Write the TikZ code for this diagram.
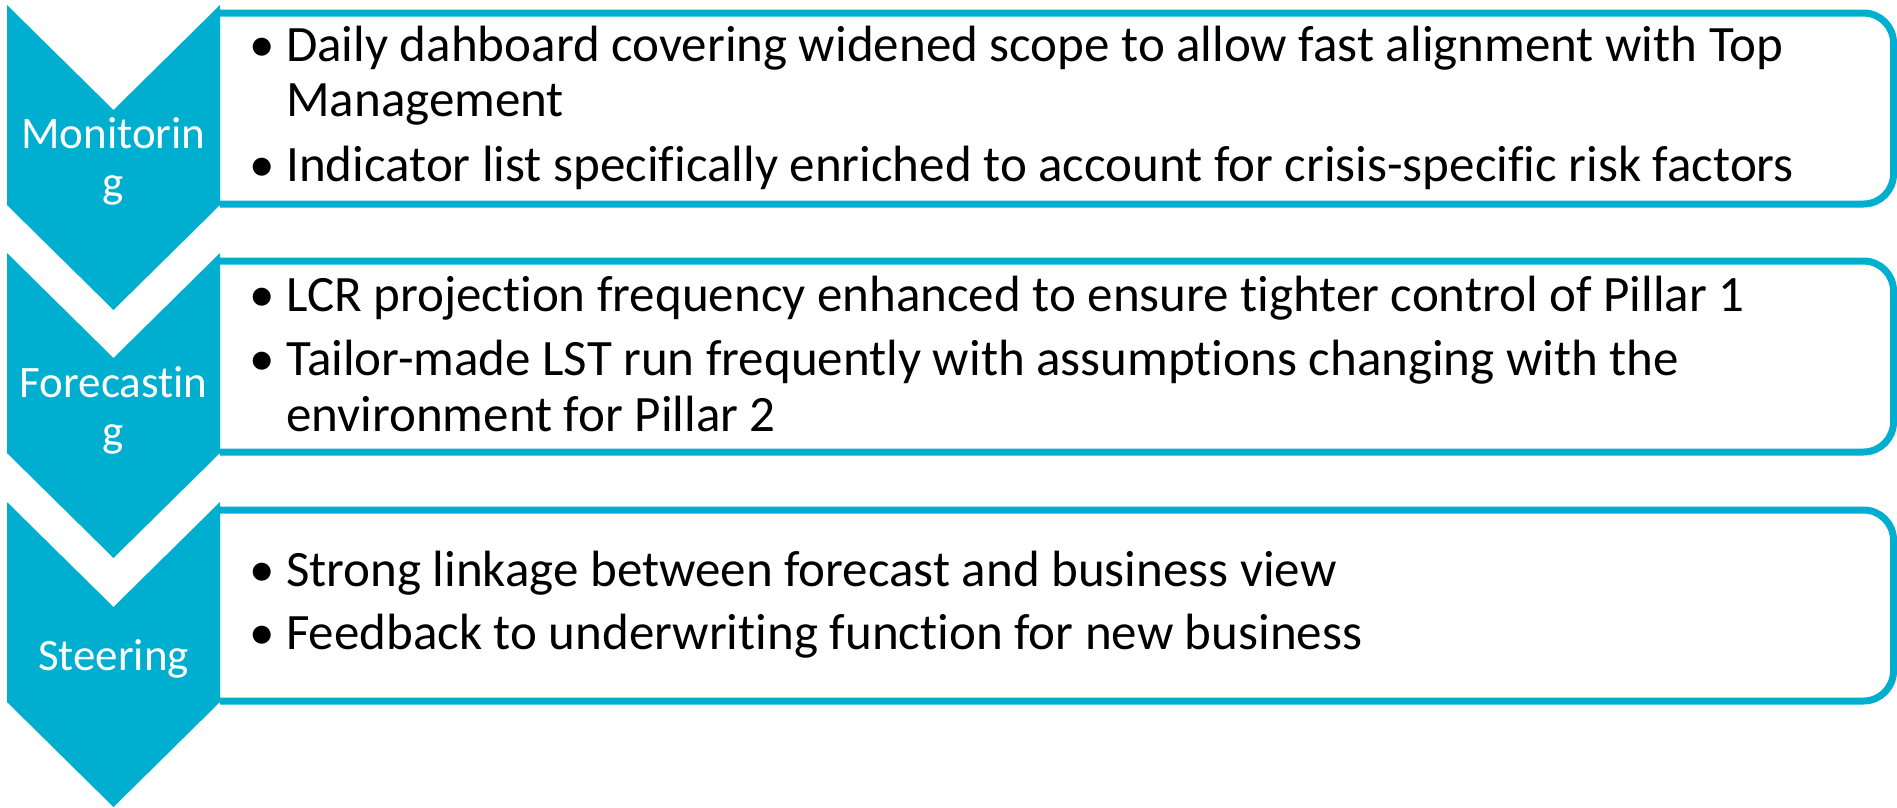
\documentclass[tikz,border=0pt]{standalone}
\usepackage{fontspec}
\setmainfont{Carlito}[Ligatures=NoCommon]
\definecolor{cy}{RGB}{0,175,207}
\newcommand{\bul}{\makebox[37pt][l]{\textbullet}}
\begin{document}
\begin{tikzpicture}[x=1pt,y=-1pt,
  chev/.style={fill=cy, draw=none},
  boxline/.style={draw=cy, line width=7pt, rounded corners=30pt},
  lbl/.style={text=white, font=\fontsize{45}{49}\selectfont, inner sep=0pt, anchor=base},
  body/.style={text=black, font=\fontsize{51}{55}\selectfont, inner sep=0pt, anchor=base west}]
\useasboundingbox (0,0) rectangle (1897,807);
% boxes
\foreach \T in {5,253,502}{
  \draw[boxline] (220,{\T+8}) -- (1893.5,{\T+8}) -- (1893.5,{\T+199}) -- (220,{\T+199});
}
% chevrons
\foreach \T in {5,253,502}{
  \fill[chev] (7,\T) -- (113.5,{\T+105}) -- (220,\T) -- (220,{\T+200}) -- (113.5,{\T+305}) -- (7,{\T+200}) -- cycle;
}
% chevron labels
\node[lbl] (l1a) at (113.5,148) {Monitorin};
\node[lbl] (l1b) at (113.5,197) {g};
\node[lbl] (l2a) at (113.5,397) {Forecastin};
\node[lbl] (l2b) at (113.5,446) {g};
\node[lbl] (l3) at (113.5,670) {Steering};
% box texts
\node[body] (t1a) at (249,61) {\bul Daily dahboard covering widened scope to allow fast alignment with Top};
\node[body] (t1b) at (286,116) {Management};
\node[body] (t1c) at (249,181) {\bul Indicator list specifically enriched to account for crisis-specific risk factors};
\node[body] (t2a) at (249,311) {\bul LCR projection frequency enhanced to ensure tighter control of Pillar 1};
\node[body] (t2b) at (249,375) {\bul Tailor-made LST run frequently with assumptions changing with the};
\node[body] (t2c) at (286,431) {environment for Pillar 2};
\node[body] (t3a) at (249,586) {\bul Strong linkage between forecast and business view};
\node[body] (t3b) at (249,649) {\bul Feedback to underwriting function for new business};
\end{tikzpicture}
\end{document}
